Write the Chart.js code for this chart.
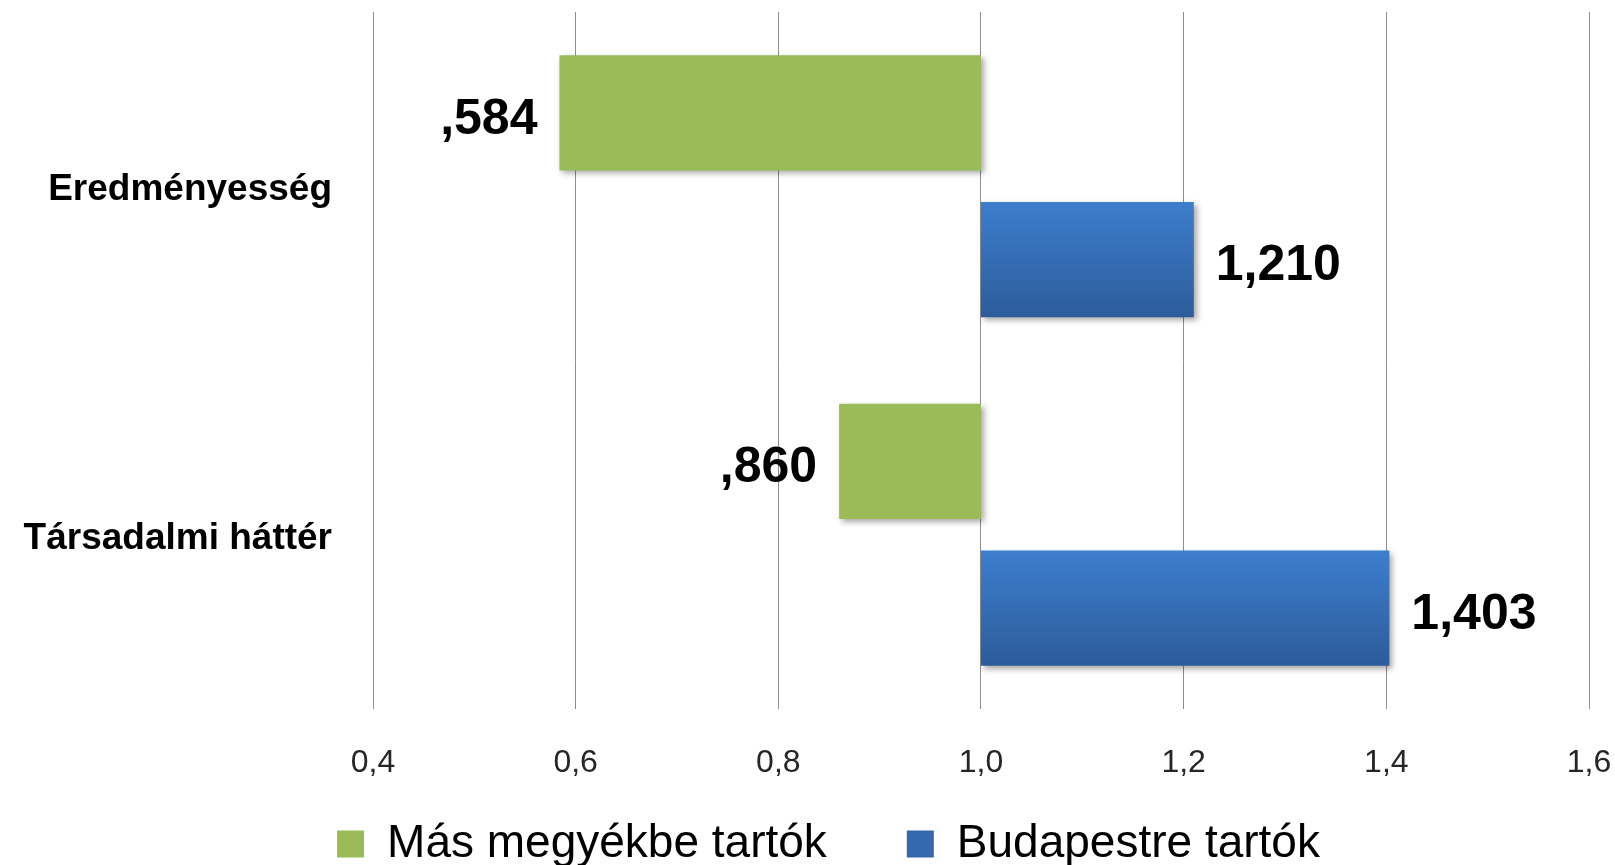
<!DOCTYPE html>
<html>
<head>
<meta charset="utf-8">
<script src="https://cdn.jsdelivr.net/npm/chart.js@4.4.0/dist/chart.umd.min.js"></script>
<style>
  html, body { margin: 0; padding: 0; background: #ffffff; }
  #wrap { width: 1615px; height: 865px; }
</style>
</head>
<body>
<div id="wrap"><canvas id="c" width="1615" height="865"></canvas></div>
<script>
const categories = ['Eredményesség', 'Társadalmi háttér'];
const seriesNames = ['Más megyékbe tartók', 'Budapestre tartók'];
const baseValue = 1.0;
const valuesOther = [0.584, 0.860];
const valuesBudapest = [1.210, 1.403];
const tickLabels = ['0,4', '0,6', '0,8', '1,0', '1,2', '1,4', '1,6'];
const axisMin = 0.4, axisMax = 1.6, axisStep = 0.2;

const FONT = "'Liberation Sans', Arial, sans-serif";
const GREEN = '#9BBB59';

function fmt(v) {
  let s = v.toFixed(3).replace('.', ',');
  if (s.startsWith('0,')) s = s.slice(1);
  return s;
}

function blueFill(c) {
  const chart = c.chart;
  const y = chart.scales && chart.scales.y;
  if (!chart.chartArea || !y || c.dataIndex === undefined) return '#3A72B8';
  const step = Math.abs(y.getPixelForValue(1) - y.getPixelForValue(0));
  const slot = step * 0.842 / 2;
  const center = y.getPixelForValue(c.dataIndex) + slot / 2;
  const top = center - slot * 0.785 / 2, bottom = center + slot * 0.785 / 2;
  const g = chart.ctx.createLinearGradient(0, top, 0, bottom);
  g.addColorStop(0, '#3D7ECD');
  g.addColorStop(1, '#2C5C9A');
  return g;
}

const shadowPlugin = {
  id: 'barShadow',
  beforeDatasetsDraw(chart) {
    const ctx = chart.ctx;
    ctx.save();
    ctx.shadowColor = 'rgba(0,0,0,0.35)';
    ctx.shadowBlur = 6;
    ctx.shadowOffsetX = 3;
    ctx.shadowOffsetY = 3;
  },
  afterDatasetsDraw(chart) {
    chart.ctx.restore();
  }
};

const legendPlace = {
  id: 'legendPlace',
  afterLayout(chart) {
    const lg = chart.legend;
    if (!lg) return;
    lg.left += 34; lg.right += 34;
    lg.top = 741; lg.bottom = 865; lg.height = lg.bottom - lg.top;
  }
};

const labelPlugin = {
  id: 'valueLabels',
  afterDatasetsDraw(chart) {
    const ctx = chart.ctx;
    ctx.save();
    ctx.font = 'bold 50px ' + FONT;
    ctx.fillStyle = '#000000';
    ctx.textBaseline = 'middle';
    chart.data.datasets.forEach((ds, di) => {
      const meta = chart.getDatasetMeta(di);
      meta.data.forEach((el, i) => {
        const v = ds.rawValues[i];
        const p = el.getProps(['x', 'y', 'base'], true);
        if (v < baseValue) {
          ctx.textAlign = 'right';
          ctx.fillText(fmt(v), Math.min(p.x, p.base) - 22, p.y + 7);
        } else {
          ctx.textAlign = 'left';
          ctx.fillText(fmt(v), Math.max(p.x, p.base) + 22, p.y + 7);
        }
      });
    });
    ctx.restore();
  }
};

new Chart(document.getElementById('c'), {
  type: 'bar',
  data: {
    labels: categories,
    datasets: [
      {
        label: seriesNames[0],
        data: valuesOther.map(v => [baseValue, v]),
        rawValues: valuesOther,
        backgroundColor: GREEN,
        borderWidth: 0,
        categoryPercentage: 0.842,
        barPercentage: 0.785
      },
      {
        label: seriesNames[1],
        data: valuesBudapest.map(v => [baseValue, v]),
        rawValues: valuesBudapest,
        backgroundColor: blueFill,
        borderWidth: 0,
        categoryPercentage: 0.842,
        barPercentage: 0.785
      }
    ]
  },
  options: {
    indexAxis: 'y',
    responsive: false,
    animation: false,
    devicePixelRatio: 1,
    layout: { padding: { top: 12, left: 0, right: 26, bottom: 0 } },
    scales: {
      x: {
        min: axisMin,
        max: axisMax,
        border: { display: false },
        grid: { color: '#8E8E8E', lineWidth: 1, drawTicks: false },
        ticks: {
          stepSize: axisStep,
          padding: 35,
          color: '#262626',
          font: { family: FONT, size: 32 },
          callback: (v, i) => tickLabels[i]
        },
        afterFit: (s) => { s.height = 80; s.paddingLeft = 0; s.paddingRight = 0; }
      },
      y: {
        border: { display: false },
        grid: { display: false, drawTicks: false },
        ticks: {
          padding: 41,
          labelOffset: 4,
          color: '#000000',
          font: { family: FONT, size: 37, weight: 'bold' }
        },
        afterFit: (s) => { s.width = 373; s.paddingTop = 0; s.paddingBottom = 0; }
      }
    },
    plugins: {
      tooltip: { enabled: false },
      legend: {
        position: 'bottom',
        maxHeight: 76,
        labels: {
          boxWidth: 27,
          boxHeight: 27,
          padding: 80,
          color: '#000000',
          font: { family: FONT, size: 46 },
          generateLabels: (chart) => chart.data.datasets.map((ds, i) => ({
            text: ds.label,
            fillStyle: i === 0 ? GREEN : '#3468AE',
            strokeStyle: 'rgba(0,0,0,0)',
            lineWidth: 0,
            hidden: false,
            datasetIndex: i
          }))
        }
      }
    }
  },
  plugins: [shadowPlugin, labelPlugin, legendPlace]
});
</script>
</body>
</html>
